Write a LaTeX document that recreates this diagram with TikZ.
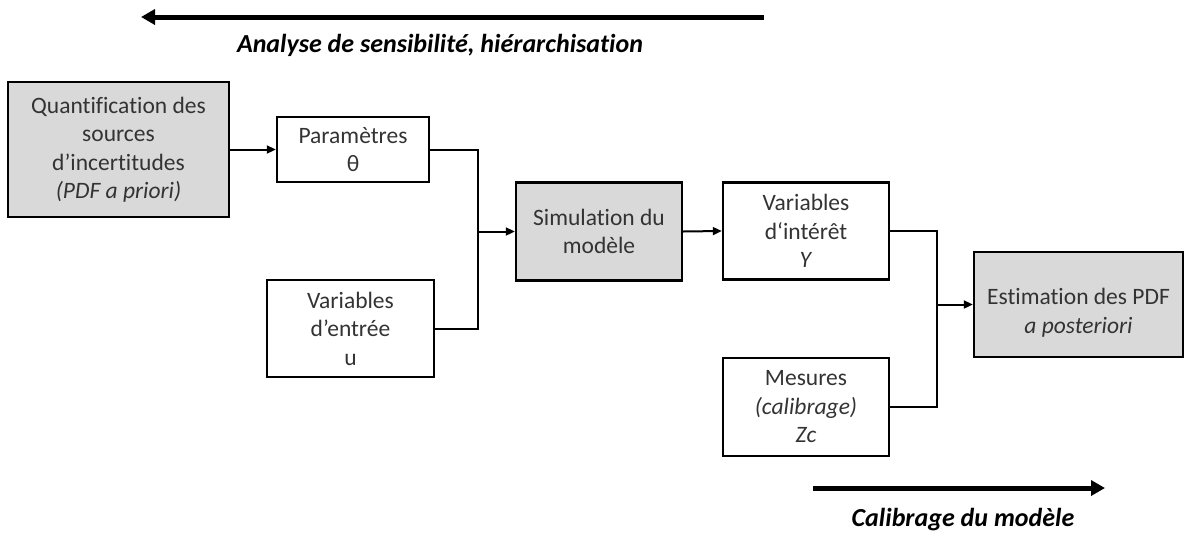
\documentclass[tikz,border=0pt]{standalone}
\usepackage{fontspec}
\setmainfont{Carlito}[Ligatures={NoCommon}]
\usetikzlibrary{arrows.meta}
\definecolor{boxgray}{HTML}{D9D9D9}
\definecolor{txt}{HTML}{333333}
\begin{document}
\begin{tikzpicture}[x=1pt,y=-1pt,
  boxtext/.style={align=center,text=txt,font=\fontsize{23.5}{28.5}\selectfont,inner sep=0pt},
  box/.style={boxtext,draw=black,line width=2.4pt,rectangle},
  gbox/.style={box,fill=boxgray},
  conn/.style={line width=2pt,line cap=rect},
  arr/.style={conn,-{Triangle[length=9pt,width=8pt]}},
  big/.style={line width=5pt,-{Triangle[length=14pt,width=15pt]}},
  lab/.style={font=\fontsize{26}{30}\selectfont\bfseries\itshape,text=black}]
\useasboundingbox (0,0) rectangle (1187,536);
% nodes
\node[gbox,minimum width=221pt,minimum height=135pt] (quant) at (118.5,149.5)
  {Quantification des\\sources\\d’incertitudes\\\textit{(PDF a priori)}};
\node[box,minimum width=152pt,minimum height=65pt] (param) at (353,149.5)
  {Paramètres\\θ};
\node[box,minimum width=167pt,minimum height=97pt] (entree) at (350.5,328.5)
  {Variables\\d’entrée\\u};
\node[gbox,minimum width=166pt,minimum height=98pt] (sim) at (599,231.5)
  {Simulation du\\modèle};
\node[box,minimum width=166pt,minimum height=97pt] (interet) at (806,231)
  {Variables\\d‘intérêt\\\textit{Y}};
\node[box,minimum width=166pt,minimum height=98pt] (mes) at (806,407)
  {Mesures\\\textit{(calibrage)}\\\textit{Zc}};
\node[gbox,minimum width=209pt,minimum height=105pt] (estim) at (1078.5,304.5) {};
\node[boxtext] (estimtxt) at ([yshift=-8pt]estim.center)
  {Estimation des PDF\\\textit{a posteriori}};
% junction coordinates
\coordinate (j1) at (478,231.5);
\coordinate (j2) at (937,304.5);
% connectors
\draw[arr] (quant.east) -- (param.west);
\draw[conn] (param.east) -| (j1) |- (entree.east);
\draw[arr] (j1) -- (sim.west);
\draw[arr] (sim.east) -- (interet.west);
\draw[conn] (interet.east) -| (j2) |- (mes.east);
\draw[arr] (j2) -- (estim.west);
% big arrows
\coordinate (a1s) at (764,17);
\coordinate (a1e) at (141,17);
\draw[big] (a1s) -- (a1e);
\node[lab] (l1) at (440,45) {Analyse de sensibilité, hiérarchisation};
\coordinate (a2s) at (813,488);
\coordinate (a2e) at (1105,488);
\draw[big] (a2s) -- (a2e);
\node[lab] (l2) at (963,520) {Calibrage du modèle};
\end{tikzpicture}
\end{document}
